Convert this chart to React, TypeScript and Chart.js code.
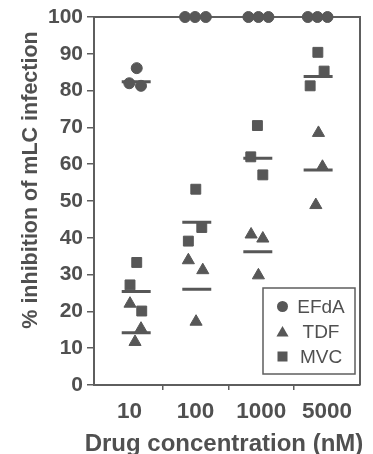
import { useEffect, useRef } from 'react';
import { Chart, registerables } from 'chart.js';

Chart.register(...registerables);

const categories = ['10', '100', '1000', '5000'];
const categoryPositions = [1, 2, 3, 4];
const yTicks = [0, 10, 20, 30, 40, 50, 60, 70, 80, 90, 100];

const efdaX = [1.109, 0.996, 1.174, 1.843, 1.995, 2.158, 2.805, 2.957, 3.109, 3.708, 3.854, 4.006];
const efdaY = [86.1, 82.0, 81.3, 100, 100, 100, 100, 100, 100, 100, 100, 100];
const tdfX = [1.007, 1.174, 1.083, 1.893, 2.112, 2.01, 2.846, 3.024, 2.957, 3.869, 3.93, 3.829];
const tdfY = [22.1, 15.3, 11.7, 33.9, 31.2, 17.2, 40.9, 39.8, 29.8, 68.5, 59.3, 48.9];
const mvcX = [1.109, 1.007, 1.185, 2.006, 2.097, 1.893, 2.942, 2.841, 3.024, 3.86, 3.955, 3.743];
const mvcY = [33.3, 27.2, 20.1, 53.2, 42.8, 39.1, 70.5, 62.0, 57.1, 90.4, 85.3, 81.3];

const groupCenters = [1.101, 2.021, 2.948, 3.864];
const efdaMean = [82.4, 100, 100, 100];
const tdfMean = [14.2, 26.0, 36.2, 58.4];
const mvcMean = [25.4, 44.2, 61.6, 83.8];

const seriesNames = ['EFdA', 'TDF', 'MVC'];

const INK = '#575757';
const TEXT = '#505050';
const AXIS = '#5e5e5e';
const FONT = "'Liberation Sans', Arial, sans-serif";
const HALF = 0.22;

function pts(xs: number[], ys: number[]) {
  return xs.map((x, i) => ({ x, y: ys[i] }));
}

function meanLine(means: number[]) {
  const out: any[] = [];
  groupCenters.forEach((c, i) => {
    out.push({ x: c - HALF, y: means[i] });
    out.push({ x: c + HALF, y: means[i] });
    out.push({ x: c + HALF + 0.01, y: null });
  });
  return out;
}

const framePlugin = {
  id: 'frame',
  beforeDatasetsDraw(chart: any) {
    const { ctx, chartArea } = chart;
    const { left, right, top, bottom } = chartArea;
    ctx.save();
    ctx.strokeStyle = AXIS;
    ctx.lineWidth = 2;
    ctx.beginPath();
    ctx.moveTo(left, top);
    ctx.lineTo(right, top);
    ctx.lineTo(right, bottom);
    ctx.stroke();
    ctx.restore();
  },
  afterDraw(chart: any) {
    const { ctx, chartArea } = chart;
    const { left, right, top, bottom } = chartArea;
    ctx.save();
    // legend box
    const bx0 = right - 97;
    const bx1 = right - 5;
    const by0 = bottom - 97;
    const by1 = bottom - 11;
    ctx.strokeStyle = AXIS;
    ctx.lineWidth = 1.5;
    ctx.strokeRect(bx0, by0, bx1 - bx0, by1 - by0);
    const mx = bx0 + 19.5;
    const tx = bx0 + 58;
    const rows = [by0 + 18.5, by0 + 43.5, by0 + 68.5];
    ctx.fillStyle = INK;
    // circle
    ctx.beginPath();
    ctx.arc(mx, rows[0], 5.5, 0, Math.PI * 2);
    ctx.fill();
    // triangle
    const r = 7;
    ctx.beginPath();
    ctx.moveTo(mx, rows[1] - r + 1.5);
    ctx.lineTo(mx + r * 0.866, rows[1] + r / 2 + 1.5);
    ctx.lineTo(mx - r * 0.866, rows[1] + r / 2 + 1.5);
    ctx.closePath();
    ctx.fill();
    // square
    ctx.fillRect(mx - 5, rows[2] - 5, 10, 10);
    ctx.fillStyle = TEXT;
    ctx.font = `19px ${FONT}`;
    ctx.textAlign = 'center';
    ctx.textBaseline = 'middle';
    seriesNames.forEach((n, i) => ctx.fillText(n, tx, rows[i] + 1));

    // axis titles
    ctx.fillStyle = TEXT;
    ctx.font = `bold 24px ${FONT}`;
    ctx.textAlign = 'center';
    ctx.textBaseline = 'alphabetic';
    ctx.fillText('Drug concentration (nM)', 224, 451);

    ctx.translate(36.5, 180);
    ctx.rotate(-Math.PI / 2);
    ctx.font = `bold 21.5px ${FONT}`;
    ctx.fillText('% inhibition of mLC infection', 0, 0);
    ctx.restore();
  },
};

export default function App() {
  const ref = useRef<HTMLCanvasElement | null>(null);

  useEffect(() => {
    if (!ref.current) return;
    const marker = {
      backgroundColor: INK,
      borderColor: INK,
      borderWidth: 1,
      clip: false as any,
      showLine: false,
    };
    const line = {
      type: 'line' as const,
      borderColor: INK,
      borderWidth: 3,
      pointRadius: 0,
      spanGaps: false,
      clip: false as any,
      fill: false,
    };
    const chart = new Chart(ref.current, {
      type: 'scatter',
      data: {
        datasets: [
          { ...marker, label: 'EFdA', data: pts(efdaX, efdaY), pointStyle: 'circle', pointRadius: 5.5 },
          { ...marker, label: 'TDF', data: pts(tdfX, tdfY), pointStyle: 'triangle', pointRadius: 7 },
          { ...marker, label: 'MVC', data: pts(mvcX, mvcY), pointStyle: 'rect', pointRadius: 7 },
          { ...line, label: 'EFdA mean', data: meanLine(efdaMean) },
          { ...line, label: 'TDF mean', data: meanLine(tdfMean) },
          { ...line, label: 'MVC mean', data: meanLine(mvcMean) },
        ] as any,
      },
      options: {
        animation: false,
        responsive: false,
        devicePixelRatio: 1,
        layout: { padding: { top: 17, right: 13, left: 0, bottom: 0 } },
        plugins: { legend: { display: false }, tooltip: { enabled: false } },
        scales: {
          x: {
            type: 'linear',
            min: 0.46,
            max: 4.5,
            afterFit: (s: any) => {
              s.height = 69;
            },
            afterBuildTicks: (s: any) => {
              const t: any[] = [];
              categoryPositions.forEach((p, i) => {
                t.push({ value: p });
                if (i < categoryPositions.length - 1) t.push({ value: p + 0.5 });
              });
              s.ticks = t;
            },
            ticks: {
              autoSkip: false,
              maxRotation: 0,
              padding: 8,
              color: TEXT,
              font: { family: FONT, size: 22.5, weight: 'bold' },
              callback: (v: any) => {
                const i = categoryPositions.indexOf(Number(v));
                return i >= 0 ? categories[i] : '';
              },
            },
            grid: {
              drawOnChartArea: false,
              drawTicks: true,
              tickLength: 5,
              lineWidth: 1.5,
              color: (c: any) => (c.tick && c.tick.value % 1 !== 0 ? AXIS : 'rgba(0,0,0,0)'),
            },
            border: { display: true, color: AXIS, width: 2 },
          },
          y: {
            min: 0,
            max: 100,
            afterFit: (s: any) => {
              s.width = 94;
            },
            afterBuildTicks: (s: any) => {
              s.ticks = yTicks.map((v) => ({ value: v }));
            },
            ticks: {
              padding: 4,
              color: TEXT,
              font: { family: FONT, size: 21, weight: 'bold' },
            },
            grid: {
              drawOnChartArea: false,
              drawTicks: true,
              tickLength: 7,
              lineWidth: 1.5,
              color: AXIS,
            },
            border: { display: true, color: AXIS, width: 2 },
          },
        },
      },
      plugins: [framePlugin],
    } as any);
    return () => chart.destroy();
  }, []);

  return (
    <div style={{ position: 'fixed', left: 0, top: 0, width: 373, height: 454, background: '#fff' }}>
      <canvas ref={ref} width={373} height={454} style={{ width: 373, height: 454, display: 'block' }} />
    </div>
  );
}
